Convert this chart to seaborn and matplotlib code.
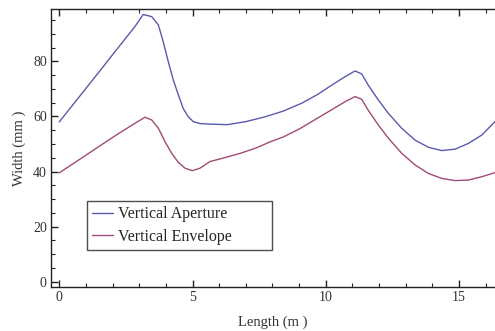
import matplotlib
matplotlib.use("Agg")
import matplotlib.pyplot as plt
from matplotlib.ticker import MultipleLocator
import seaborn as sns
import pandas as pd

# Beam line profile: vertical aperture and beam envelope along the lattice
aperture_length = [0, 0.7, 1.4, 2.1, 2.84, 3.15, 3.47, 3.72, 3.90, 4.09, 4.28, 4.47, 4.65,
                   4.84, 5.03, 5.28, 5.65, 6.3, 7.0, 7.7, 8.4, 9.1, 9.7, 10.2, 10.72,
                   11.10, 11.35, 11.59, 11.97, 12.35, 12.85, 13.35, 13.85, 14.35, 14.85,
                   15.35, 15.85, 16.35]
aperture_width = [58.0, 66.5, 75.0, 83.6, 92.6, 97.0, 96.2, 93.2, 87.1, 79.9, 73.2, 67.8, 62.9,
                  59.9, 58.1, 57.4, 57.2, 57.0, 58.1, 59.8, 61.9, 64.8, 68.0, 71.2, 74.4,
                  76.5, 75.4, 71.4, 66.0, 61.1, 55.7, 51.4, 48.8, 47.6, 48.1,
                  50.2, 53.2, 58.1]

envelope_length = [0, 0.7, 1.4, 2.1, 2.84, 3.22, 3.47, 3.72, 3.97, 4.22, 4.47, 4.72, 4.99,
                   5.28, 5.65, 6.2, 6.79, 7.4, 7.92, 8.42, 9.0, 9.68, 10.2, 10.72,
                   11.10, 11.35, 11.59, 11.97, 12.35, 12.85, 13.35, 13.85, 14.35, 14.85,
                   15.35, 15.85, 16.35]
envelope_width = [39.5, 44.0, 48.5, 53.0, 57.5, 59.7, 58.7, 55.7, 50.8, 46.6, 43.3, 41.2, 40.3,
                  41.2, 43.6, 45.0, 46.6, 48.6, 50.8, 52.6, 55.4, 59.3, 62.3, 65.3,
                  67.2, 66.2, 62.3, 56.9, 52.1, 46.6, 42.4, 39.3, 37.5, 36.7,
                  36.9, 38.1, 39.6]

series_names = ["Vertical Aperture", "Vertical Envelope"]
series_colors = ["#5a5aad", "#a04a78"]

df = pd.concat([
    pd.DataFrame({"Length": aperture_length, "Width": aperture_width, "series": series_names[0]}),
    pd.DataFrame({"Length": envelope_length, "Width": envelope_width, "series": series_names[1]}),
])

sns.set_theme(style="white")
plt.rcParams["font.family"] = ["Liberation Serif", "DejaVu Serif"]

fig = plt.figure(figsize=(4.95, 3.31), dpi=100)
ax = fig.add_axes([0.103, 0.133, 0.897, 0.840])

sns.lineplot(data=df, x="Length", y="Width", hue="series", hue_order=series_names,
             palette=series_colors, linewidth=1.0, sort=False, estimator=None, ax=ax)

ax.set_xlim(-0.31, 16.35)
ax.set_ylim(-1.9, 99.0)
ax.xaxis.set_major_locator(MultipleLocator(5))
ax.xaxis.set_minor_locator(MultipleLocator(1))
ax.yaxis.set_major_locator(MultipleLocator(20))
ax.yaxis.set_minor_locator(MultipleLocator(5))

for side in ["left", "bottom", "top"]:
    ax.spines[side].set_color("#222222")
    ax.spines[side].set_linewidth(1.0)
ax.spines["right"].set_visible(False)

ax.tick_params(which="both", direction="in", top=True, bottom=True, left=True, right=False,
               color="#222222", labelsize=10, labelcolor="#333333", pad=3)
ax.tick_params(which="major", length=5, width=1.0)
ax.tick_params(which="minor", length=3, width=0.8)

ax.set_xlabel("Length (m )", fontsize=10.5, color="#333333", labelpad=8)
ax.set_ylabel("Width (mm )", fontsize=10.5, color="#333333", labelpad=5)

# Legend box stretched to a fixed width, entries left-aligned inside it
leg = ax.legend(loc="upper left", bbox_to_anchor=(0.080, 0.133, 0.417, 0.177), mode="expand",
                fontsize=11.5, frameon=True, fancybox=False, edgecolor="#222222",
                handlelength=1.3, handletextpad=0.3, borderpad=0.35, labelspacing=0.4,
                borderaxespad=0)
leg.get_frame().set_linewidth(1.0)
leg.set_title(None)

fig.savefig("out.png", dpi=100)
